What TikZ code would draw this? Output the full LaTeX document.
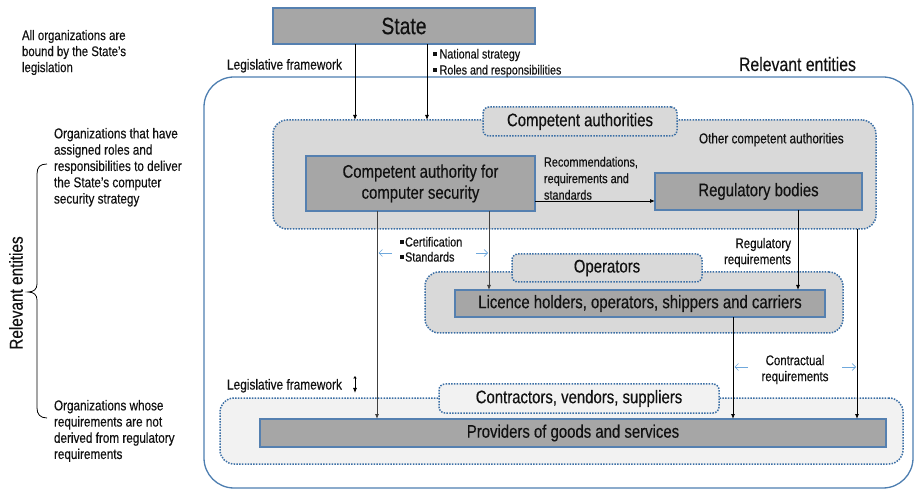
\documentclass[tikz,border=0pt]{standalone}
\usepackage{fontspec}
\setmainfont{Liberation Sans}[FakeStretch=0.82,FakeBold=0.35]
\usetikzlibrary{arrows.meta,calc}
\newcommand\myfs[2]{\fontsize{#1}{#2}\selectfont}
\newcommand\sqb{\rule[0.2em]{3.6pt}{3.6pt}\hspace{3pt}}
\newcommand\sqbb{\rule[0.2em]{3.6pt}{3.6pt}\hspace{1.5pt}}
\definecolor{boxfill}{HTML}{A6A6A6}
\definecolor{boxblue}{HTML}{5580B0}
\definecolor{regfill}{HTML}{D9D9D9}
\definecolor{lightfill}{HTML}{F2F2F2}
\definecolor{dotblue}{HTML}{3A6EA5}
\definecolor{outerblue}{HTML}{4D7EB0}
\definecolor{lightarrow}{HTML}{6FA8DC}
\definecolor{txt}{HTML}{111111}
\tikzset{
  every node/.style={inner sep=0pt, outer sep=0pt, text=txt},
  region/.style={fill=regfill, draw=dotblue, line width=1.5pt, dash pattern=on 1.5pt off 1.3pt, rounded corners=14pt},
  lregion/.style={region, fill=lightfill},
  tab/.style={fill=regfill, draw=dotblue, line width=1.5pt, dash pattern=on 1.5pt off 1.3pt, rounded corners=6pt, font=\myfs{18.2}{20}},
  ltab/.style={tab, fill=lightfill},
  boxst/.style={fill=boxfill, draw=boxblue, line width=1.2pt, font=\myfs{18.2}{21}, align=center},
  arr/.style={-{Latex[length=5pt,width=4pt]}, line width=0.8pt, draw=black},
  garr/.style={arr, draw=black!75},
  barr/.style={-{Straight Barb[length=3.5pt,width=7pt]}, line width=0.7pt, draw=lightarrow},
  note/.style={anchor=north west, align=left}
}
\begin{document}
\begin{tikzpicture}[x=1pt,y=-1pt]
\useasboundingbox (0,0) rectangle (914,489);

% outer frame
\node[draw=outerblue, line width=1.3pt, rounded corners=30pt, minimum width=709pt, minimum height=411pt] (outer) at (558.5,282.5) {};

% regions and tabs
\node[region, minimum width=603pt, minimum height=109pt] (rca) at (574.5,174.5) {};
\node[tab, minimum width=194pt, minimum height=29pt] (tca) at (580,121.5) {Competent authorities};
\node[region, minimum width=418pt, minimum height=61pt] (rop) at (634,302.5) {};
\node[tab, minimum width=190pt, minimum height=28pt] (top) at (607,268) {Operators};
\node[lregion, minimum width=683pt, minimum height=66pt] (rcon) at (561.5,431) {};
\node[ltab, minimum width=280pt, minimum height=29pt] (tcon) at (579,398.5) {Contractors, vendors, suppliers};

% boxes
\node[boxst, minimum width=262pt, minimum height=36pt, font=\myfs{23.6}{25}] (state) at (404,26) {State};
\node[boxst, minimum width=229pt, minimum height=55pt] (ca) at (420.5,183.5) {Competent authority for\\computer security};
\node[boxst, minimum width=207pt, minimum height=37pt] (rb) at (758.5,191.5) {Regulatory bodies};
\node[boxst, minimum width=370pt, minimum height=27pt] (lic) at (640,303.5) {Licence holders, operators, shippers and carriers};
\node[boxst, minimum width=626pt, minimum height=28pt] (prov) at (573,433) {Providers of goods and services};

% x positions of the vertical connectors
\coordinate (xa) at (355,0);
\coordinate (xb) at (427,0);
\coordinate (xc) at (377,0);
\coordinate (xd) at (489,0);
\coordinate (xe) at (798,0);
\coordinate (xf) at (857,0);
\coordinate (xg) at (733,0);
\coordinate (yr) at (0,201);

% connectors
\draw[arr] (state.south -| xa) -- (rca.north -| xa);
\draw[arr] (state.south -| xb) -- (rca.north -| xb);
\draw[garr] (ca.south -| xc) -- (prov.north -| xc);
\draw[garr] (ca.south -| xd) -- (lic.north -| xd);
\draw[arr] (rb.south -| xe) -- (lic.north -| xe);
\draw[arr] (rca.south -| xf) -- (prov.north -| xf);
\draw[arr] (lic.south -| xg) -- (prov.north -| xg);
\draw[arr] (ca.east |- yr) -- (rb.west |- yr);

% light blue arrows
\coordinate (b1s) at (392,253); \coordinate (b1e) at (378.5,253);
\coordinate (b2s) at (476,253); \coordinate (b2e) at (488,253);
\coordinate (b3s) at (748,367); \coordinate (b3e) at (734.5,367);
\coordinate (b4s) at (842,367); \coordinate (b4e) at (856,367);
\draw[barr] (b1s) -- (b1e);
\draw[barr] (b2s) -- (b2e);
\draw[barr] (b3s) -- (b3e);
\draw[barr] (b4s) -- (b4e);

% small double arrow
\coordinate (da) at (355,376); \coordinate (db) at (355,393);
\draw[{Latex[length=2.5pt,width=4pt]}-{Latex[length=5pt,width=4pt]}, line width=0.8pt] (da) -- (db);

% brace
\draw[line width=0.8pt] (47,164) .. controls (40,164) and (37,167) .. (37,174) -- (37,284) .. controls (37,289) and (34,292) .. (28,292) .. controls (34,292) and (37,295) .. (37,300) -- (37,408) .. controls (37,414) and (40,418) .. (47,418);

% texts
\node[note, font=\myfs{13.95}{16}] (allorg) at (22,30) {All organizations are\\bound by the State’s\\legislation};
\node[note, font=\myfs{14.3}{16.3}] (orgroles) at (54,128) {Organizations that have\\assigned roles and\\responsibilities to deliver\\the State’s computer\\security strategy};
\node[note, font=\myfs{14.3}{16.2}] (orgwhose) at (54,400) {Organizations whose\\requirements are not\\derived from regulatory\\requirements};
\node[rotate=90, font=\myfs{18.7}{20}] (relleft) at (16,293) {Relevant entities};
\node[note, font=\myfs{19.3}{20}] (relright) at (739,57) {Relevant entities};
\node[note, font=\myfs{14.5}{16}] (legtop) at (227,59) {Legislative framework};
\node[note, font=\myfs{14.5}{16}] (legbot) at (227,379) {Legislative framework};
\node[note, font=\myfs{13.1}{16}] (natl) at (433,49) {\sqb National strategy\\\sqb Roles and responsibilities};
\node[note, font=\myfs{13.3}{16.5}] (recom) at (544,157) {Recommendations,\\requirements and\\standards};
\node[note, font=\myfs{14.3}{16}] (other) at (699,133) {Other competent authorities};
\node[note, font=\myfs{13.2}{15}] (cert) at (400,237) {\sqbb Certification\\\sqbb Standards};
\node[anchor=north east, align=right, font=\myfs{14}{16}] (regreq) at (791,238) {Regulatory\\requirements};
\node[anchor=north, align=center, font=\myfs{14}{16}] (contr) at (795,355) {Contractual\\requirements};
\end{tikzpicture}
\end{document}
